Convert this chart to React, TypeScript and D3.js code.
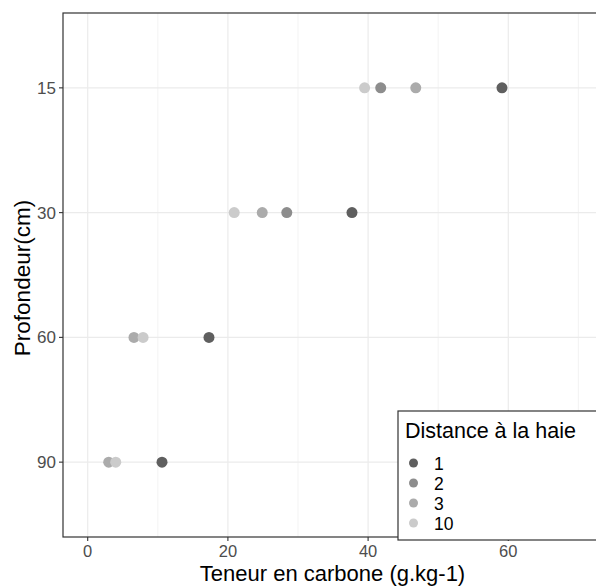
import React from "react";
import * as d3 from "d3";

const depths = ["15", "30", "60", "90"];
const distances = ["1", "2", "3", "10"];
const colors = ["#5f5f5f", "#8d8d8d", "#ababab", "#cbcbcb"];
const xTicks = [0, 20, 40, 60];
const xMinor = [10, 30, 50, 70];

// carbon content per distance, per depth (15,30,60,90); null = not visible
const carbonD1 = [59.1, 37.7, 17.3, 10.6];
const carbonD2 = [41.8, 28.4, null, null];
const carbonD3 = [46.8, 24.9, 6.6, 3.0];
const carbonD10 = [39.5, 20.9, 7.9, 4.0];
const series = [carbonD1, carbonD2, carbonD3, carbonD10];

const W = 596, H = 588;
const panel = { left: 63, top: 13, right: 596, bottom: 537 };

export default function App() {
  const x = d3.scaleLinear().domain([0, 70]).range([87.7, 578.4]);
  const y = d3.scalePoint<string>().domain(depths).range([panel.top, panel.bottom]).padding(0.6);
  const font = "'Liberation Sans', Arial, sans-serif";

  const points: { cx: number; cy: number; color: string }[] = [];
  series.forEach((vals, si) => {
    vals.forEach((v, di) => {
      if (v == null) return;
      points.push({ cx: x(v), cy: y(depths[di]) as number, color: colors[si] });
    });
  });

  return (
    <svg width={W} height={H} style={{ position: "absolute", left: 0, top: 0, fontFamily: font }}>
      <rect x={0} y={0} width={W} height={H} fill="#fff" />
      <rect x={panel.left} y={panel.top} width={panel.right - panel.left} height={panel.bottom - panel.top} fill="#fff" />
      {xMinor.map((t) => (
        <line key={"mx" + t} x1={x(t)} x2={x(t)} y1={panel.top} y2={panel.bottom} stroke="#f0f0f0" strokeWidth={0.8} />
      ))}
      {xTicks.map((t) => (
        <line key={"gx" + t} x1={x(t)} x2={x(t)} y1={panel.top} y2={panel.bottom} stroke="#ebebeb" strokeWidth={1.2} />
      ))}
      {depths.map((d) => (
        <line key={"gy" + d} x1={panel.left} x2={panel.right} y1={y(d)} y2={y(d)} stroke="#ebebeb" strokeWidth={1.2} />
      ))}
      {points.map((p, i) => (
        <circle key={i} cx={p.cx} cy={p.cy} r={5.5} fill={p.color} />
      ))}
      <rect x={panel.left} y={panel.top} width={panel.right - panel.left + 5} height={panel.bottom - panel.top} fill="none" stroke="#333333" strokeWidth={1.2} />
      {xTicks.map((t) => (
        <g key={"tx" + t}>
          <line x1={x(t)} x2={x(t)} y1={panel.bottom} y2={panel.bottom + 4} stroke="#333333" strokeWidth={1.1} />
          <text x={x(t)} y={panel.bottom + 19.5} textAnchor="middle" fontSize={16.5} fill="#4d4d4d">{t}</text>
        </g>
      ))}
      {depths.map((d) => (
        <g key={"ty" + d}>
          <line x1={panel.left - 4} x2={panel.left} y1={y(d)} y2={y(d)} stroke="#333333" strokeWidth={1.1} />
          <text x={panel.left - 7} y={(y(d) as number) + 6} textAnchor="end" fontSize={17} fill="#4d4d4d">{d}</text>
        </g>
      ))}
      <text x={(panel.left + panel.right) / 2 + 3} y={581} textAnchor="middle" fontSize={22} fill="#000">Teneur en carbone (g.kg-1)</text>
      <text transform={`translate(30,${(panel.top + panel.bottom) / 2 + 3}) rotate(-90)`} textAnchor="middle" fontSize={22.5} fill="#000">Profondeur(cm)</text>
      <g>
        <rect x={398} y={411} width={210} height={129} fill="#fff" stroke="#333333" strokeWidth={1.2} />
        <text x={405} y={438} fontSize={21.5} fill="#000">Distance à la haie</text>
        {distances.map((d, i) => (
          <g key={"lg" + d}>
            <circle cx={413.5} cy={463 + i * 20} r={4.5} fill={colors[i]} />
            <text x={434} y={469.5 + i * 20} fontSize={17.5} fill="#000">{d}</text>
          </g>
        ))}
      </g>
    </svg>
  );
}
